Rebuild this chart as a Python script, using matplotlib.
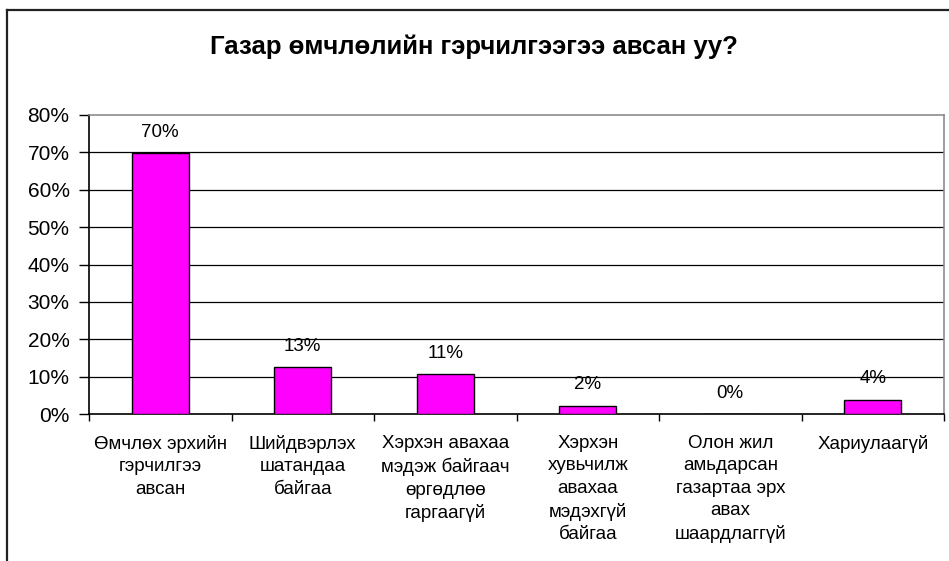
import matplotlib
matplotlib.use("Agg")
import matplotlib.pyplot as plt
from matplotlib.lines import Line2D
from matplotlib.ticker import FuncFormatter

plt.rcParams['font.family'] = ['Liberation Sans', 'DejaVu Sans']

title = "Газар өмчлөлийн гэрчилгээгээ авсан уу?"
categories = [
    "Өмчлөх эрхийн\nгэрчилгээ\nавсан",
    "Шийдвэрлэх\nшатандаа\nбайгаа",
    "Хэрхэн авахаа\nмэдэж байгаач\nөргөдлөө\nгаргаагүй",
    "Хэрхэн\nхувьчилж\nавахаа\nмэдэхгүй\nбайгаа",
    "Олон жил\nамьдарсан\nгазартаа эрх\nавах\nшаардлаггүй",
    "Хариулаагүй",
]
values = [69.8, 12.6, 10.7, 2.2, 0.0, 3.8]
y_ticks = [0, 10, 20, 30, 40, 50, 60, 70, 80]

W, H = 949, 561
fig = plt.figure(figsize=(W / 100, H / 100), dpi=100)
fig.patch.set_facecolor("white")

left, right, top, bottom = 89, 944, 115, 414
ax = fig.add_axes([left / W, 1 - bottom / H, (right - left) / W, (bottom - top) / H])

x = list(range(len(categories)))
ax.bar(x, values, width=0.40, color="#FF00FF", edgecolor="black", linewidth=1.0, zorder=3)

for xi, v in zip(x, values):
    ax.annotate(f"{round(v):.0f}%", (xi, v), xytext=(0, 15), textcoords="offset points",
                ha="center", va="center", fontsize=13.5, zorder=4)

ax.set_xlim(-0.5, len(categories) - 0.5)
ax.set_ylim(0, 80)
ax.set_yticks(y_ticks)
ax.yaxis.set_major_formatter(FuncFormatter(lambda v, p: f"{v:.0f}%"))
ax.tick_params(axis="y", direction="out", length=7, width=1, color="black", labelsize=15, pad=7)

# category labels at centers (no tick), tick marks at boundaries
ax.set_xticks(x)
ax.set_xticklabels(categories, fontsize=13.5, linespacing=1.42, va="top")
ax.tick_params(axis="x", which="major", length=0, pad=15)
ax.set_xticks([i - 0.5 for i in range(len(categories) + 1)], minor=True)
ax.tick_params(axis="x", which="minor", direction="out", length=5, width=1, color="black")

for yv in y_ticks[1:-1]:
    ax.axhline(yv, color="black", linewidth=0.9, zorder=1)

ax.spines["left"].set_color("black")
ax.spines["bottom"].set_color("black")
ax.spines["top"].set_color("#8c8c8c")
ax.spines["right"].set_color("#8c8c8c")
for s in ax.spines.values():
    s.set_linewidth(1.2)

fig.text(474 / W, 1 - 47 / H, title, ha="center", va="center", fontsize=18.5, fontweight="bold")

# outer chart border (top and left visible)
fig.add_artist(Line2D([7 / W, 1.0], [1 - 10 / H, 1 - 10 / H], transform=fig.transFigure,
                      color="#222222", linewidth=1.6))
fig.add_artist(Line2D([7 / W, 7 / W], [0.0, 1 - 10 / H], transform=fig.transFigure,
                      color="#222222", linewidth=1.6))

fig.savefig("out.png", dpi=100)
